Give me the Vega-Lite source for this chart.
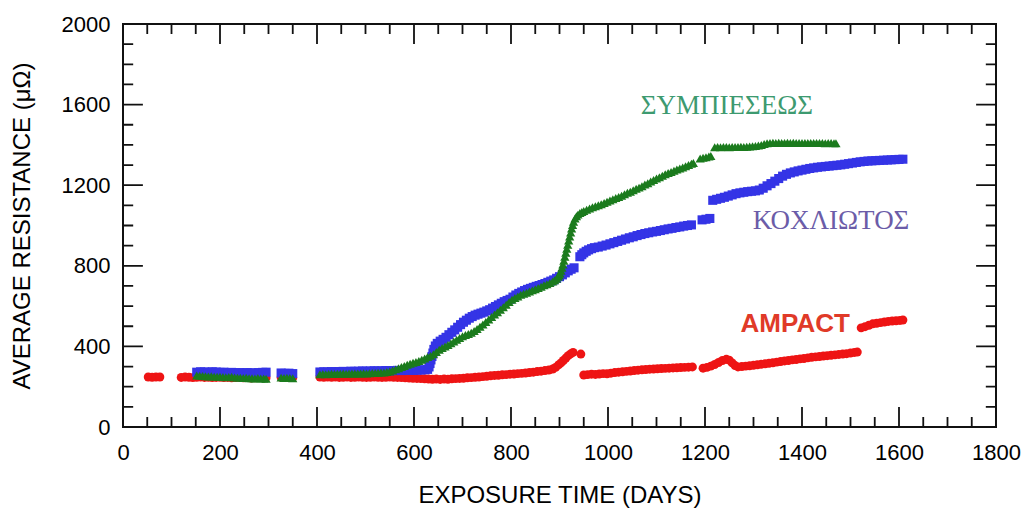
{
"$schema": "https://vega.github.io/schema/vega-lite/v6.json",
"width": 873, "height": 403,
"autosize": {"type": "none"},
"padding": {"left": 123, "top": 24, "right": 29, "bottom": 84},
"background": "white",
"config": {"font": "Liberation Sans", "view": {"stroke": "#111111", "strokeWidth": 2},
  "axis": {"grid": false, "domain": false, "labelColor": "black", "titleColor": "black", "labelFont": "Liberation Sans", "titleFont": "Liberation Sans", "labelFontSize": 22, "titleFontSize": 24, "titleFontWeight": "normal", "labelFlush": false, "labelOverlap": false, "format": "d"}},
"datasets": {
"xmaj": [{"t":200},{"t":400},{"t":600},{"t":800},{"t":1000},{"t":1200},{"t":1400},{"t":1600}],
"xmin": [{"t":50},{"t":100},{"t":150},{"t":250},{"t":300},{"t":350},{"t":450},{"t":500},{"t":550},{"t":650},{"t":700},{"t":750},{"t":850},{"t":900},{"t":950},{"t":1050},{"t":1100},{"t":1150},{"t":1250},{"t":1300},{"t":1350},{"t":1450},{"t":1500},{"t":1550},{"t":1650},{"t":1700},{"t":1750}],
"ymaj": [{"t":400},{"t":800},{"t":1200},{"t":1600}],
"ymin": [{"t":100},{"t":200},{"t":300},{"t":500},{"t":600},{"t":700},{"t":900},{"t":1000},{"t":1100},{"t":1300},{"t":1400},{"t":1500},{"t":1700},{"t":1800},{"t":1900}],
"pts": [
{"s":"AMPACT","d":52,"v":248},{"s":"AMPACT","d":60,"v":247},{"s":"AMPACT","d":68,"v":248},{"s":"AMPACT","d":76,"v":248},
{"s":"AMPACT","d":120,"v":246},{"s":"AMPACT","d":128,"v":248},{"s":"AMPACT","d":136,"v":247},{"s":"AMPACT","d":144,"v":245},{"s":"AMPACT","d":152,"v":247},{"s":"AMPACT","d":160,"v":248},{"s":"AMPACT","d":168,"v":246},{"s":"AMPACT","d":176,"v":247},{"s":"AMPACT","d":184,"v":245},{"s":"AMPACT","d":192,"v":246},{"s":"AMPACT","d":200,"v":247},{"s":"AMPACT","d":208,"v":245},{"s":"AMPACT","d":216,"v":246},{"s":"AMPACT","d":224,"v":244},{"s":"AMPACT","d":232,"v":245},{"s":"AMPACT","d":240,"v":246},{"s":"AMPACT","d":248,"v":244},{"s":"AMPACT","d":256,"v":245},{"s":"AMPACT","d":264,"v":243},{"s":"AMPACT","d":272,"v":244},{"s":"AMPACT","d":280,"v":245},{"s":"AMPACT","d":288,"v":244},{"s":"AMPACT","d":295,"v":245},
{"s":"AMPACT","d":326,"v":246},{"s":"AMPACT","d":334,"v":245},{"s":"AMPACT","d":342,"v":246},{"s":"AMPACT","d":350,"v":245},
{"s":"AMPACT","d":406,"v":248},{"s":"AMPACT","d":414,"v":247},{"s":"AMPACT","d":422,"v":248},{"s":"AMPACT","d":430,"v":247},{"s":"AMPACT","d":438,"v":248},{"s":"AMPACT","d":446,"v":246},{"s":"AMPACT","d":454,"v":247},{"s":"AMPACT","d":462,"v":248},{"s":"AMPACT","d":470,"v":246},{"s":"AMPACT","d":478,"v":247},{"s":"AMPACT","d":486,"v":248},{"s":"AMPACT","d":494,"v":247},{"s":"AMPACT","d":502,"v":246},{"s":"AMPACT","d":510,"v":247},{"s":"AMPACT","d":518,"v":248},{"s":"AMPACT","d":526,"v":247},{"s":"AMPACT","d":534,"v":246},{"s":"AMPACT","d":542,"v":247},{"s":"AMPACT","d":550,"v":248},{"s":"AMPACT","d":558,"v":247},{"s":"AMPACT","d":566,"v":246},{"s":"AMPACT","d":574,"v":245},{"s":"AMPACT","d":582,"v":244},{"s":"AMPACT","d":590,"v":243},{"s":"AMPACT","d":598,"v":242},{"s":"AMPACT","d":606,"v":241},{"s":"AMPACT","d":614,"v":240},{"s":"AMPACT","d":622,"v":239},{"s":"AMPACT","d":630,"v":238},{"s":"AMPACT","d":638,"v":237},{"s":"AMPACT","d":646,"v":238},{"s":"AMPACT","d":654,"v":236},{"s":"AMPACT","d":662,"v":238},{"s":"AMPACT","d":670,"v":237},{"s":"AMPACT","d":678,"v":239},{"s":"AMPACT","d":686,"v":240},{"s":"AMPACT","d":694,"v":241},{"s":"AMPACT","d":702,"v":242},{"s":"AMPACT","d":710,"v":244},{"s":"AMPACT","d":718,"v":245},{"s":"AMPACT","d":726,"v":247},{"s":"AMPACT","d":734,"v":248},{"s":"AMPACT","d":742,"v":250},{"s":"AMPACT","d":750,"v":252},{"s":"AMPACT","d":758,"v":254},{"s":"AMPACT","d":766,"v":256},{"s":"AMPACT","d":774,"v":257},{"s":"AMPACT","d":782,"v":259},{"s":"AMPACT","d":790,"v":260},{"s":"AMPACT","d":798,"v":262},{"s":"AMPACT","d":806,"v":263},{"s":"AMPACT","d":814,"v":265},{"s":"AMPACT","d":822,"v":266},{"s":"AMPACT","d":830,"v":268},{"s":"AMPACT","d":838,"v":270},{"s":"AMPACT","d":846,"v":272},{"s":"AMPACT","d":854,"v":275},{"s":"AMPACT","d":862,"v":277},{"s":"AMPACT","d":870,"v":280},{"s":"AMPACT","d":878,"v":283},{"s":"AMPACT","d":886,"v":288},{"s":"AMPACT","d":892,"v":296},{"s":"AMPACT","d":898,"v":308},{"s":"AMPACT","d":903,"v":318},{"s":"AMPACT","d":908,"v":330},{"s":"AMPACT","d":913,"v":342},{"s":"AMPACT","d":918,"v":354},{"s":"AMPACT","d":923,"v":363},{"s":"AMPACT","d":928,"v":370},
{"s":"AMPACT","d":944,"v":362},
{"s":"AMPACT","d":950,"v":258},{"s":"AMPACT","d":958,"v":260},{"s":"AMPACT","d":966,"v":262},{"s":"AMPACT","d":974,"v":261},{"s":"AMPACT","d":982,"v":263},{"s":"AMPACT","d":990,"v":265},{"s":"AMPACT","d":998,"v":264},{"s":"AMPACT","d":1006,"v":267},{"s":"AMPACT","d":1014,"v":270},{"s":"AMPACT","d":1022,"v":272},{"s":"AMPACT","d":1030,"v":274},{"s":"AMPACT","d":1038,"v":276},{"s":"AMPACT","d":1046,"v":278},{"s":"AMPACT","d":1054,"v":280},{"s":"AMPACT","d":1062,"v":282},{"s":"AMPACT","d":1070,"v":284},{"s":"AMPACT","d":1078,"v":285},{"s":"AMPACT","d":1086,"v":287},{"s":"AMPACT","d":1094,"v":288},{"s":"AMPACT","d":1102,"v":289},{"s":"AMPACT","d":1110,"v":290},{"s":"AMPACT","d":1118,"v":291},{"s":"AMPACT","d":1126,"v":292},{"s":"AMPACT","d":1134,"v":293},{"s":"AMPACT","d":1142,"v":294},{"s":"AMPACT","d":1150,"v":295},{"s":"AMPACT","d":1158,"v":296},{"s":"AMPACT","d":1166,"v":297},{"s":"AMPACT","d":1174,"v":298},
{"s":"AMPACT","d":1196,"v":292},{"s":"AMPACT","d":1204,"v":296},{"s":"AMPACT","d":1212,"v":302},{"s":"AMPACT","d":1220,"v":310},{"s":"AMPACT","d":1228,"v":320},{"s":"AMPACT","d":1236,"v":330},{"s":"AMPACT","d":1244,"v":336},{"s":"AMPACT","d":1250,"v":332},{"s":"AMPACT","d":1256,"v":318},{"s":"AMPACT","d":1262,"v":305},{"s":"AMPACT","d":1268,"v":298},{"s":"AMPACT","d":1276,"v":300},{"s":"AMPACT","d":1284,"v":302},{"s":"AMPACT","d":1292,"v":304},{"s":"AMPACT","d":1300,"v":306},{"s":"AMPACT","d":1308,"v":309},{"s":"AMPACT","d":1316,"v":311},{"s":"AMPACT","d":1324,"v":314},{"s":"AMPACT","d":1332,"v":316},{"s":"AMPACT","d":1340,"v":319},{"s":"AMPACT","d":1348,"v":322},{"s":"AMPACT","d":1356,"v":325},{"s":"AMPACT","d":1364,"v":328},{"s":"AMPACT","d":1372,"v":330},{"s":"AMPACT","d":1380,"v":333},{"s":"AMPACT","d":1388,"v":335},{"s":"AMPACT","d":1396,"v":338},{"s":"AMPACT","d":1404,"v":340},{"s":"AMPACT","d":1412,"v":343},{"s":"AMPACT","d":1420,"v":346},{"s":"AMPACT","d":1428,"v":348},{"s":"AMPACT","d":1436,"v":350},{"s":"AMPACT","d":1444,"v":352},{"s":"AMPACT","d":1452,"v":354},{"s":"AMPACT","d":1460,"v":356},{"s":"AMPACT","d":1468,"v":358},{"s":"AMPACT","d":1476,"v":360},{"s":"AMPACT","d":1484,"v":362},{"s":"AMPACT","d":1492,"v":364},{"s":"AMPACT","d":1500,"v":367},{"s":"AMPACT","d":1508,"v":370},{"s":"AMPACT","d":1514,"v":372},
{"s":"AMPACT","d":1522,"v":492},{"s":"AMPACT","d":1530,"v":498},{"s":"AMPACT","d":1538,"v":505},{"s":"AMPACT","d":1546,"v":512},{"s":"AMPACT","d":1554,"v":515},{"s":"AMPACT","d":1562,"v":518},{"s":"AMPACT","d":1570,"v":521},{"s":"AMPACT","d":1578,"v":524},{"s":"AMPACT","d":1586,"v":526},{"s":"AMPACT","d":1594,"v":527},{"s":"AMPACT","d":1602,"v":529},{"s":"AMPACT","d":1608,"v":531},
{"s":"KOX","d":152,"v":272},{"s":"KOX","d":160,"v":274},{"s":"KOX","d":168,"v":273},{"s":"KOX","d":176,"v":272},{"s":"KOX","d":184,"v":274},{"s":"KOX","d":192,"v":273},{"s":"KOX","d":200,"v":271},{"s":"KOX","d":208,"v":272},{"s":"KOX","d":216,"v":270},{"s":"KOX","d":224,"v":271},{"s":"KOX","d":232,"v":269},{"s":"KOX","d":240,"v":270},{"s":"KOX","d":248,"v":268},{"s":"KOX","d":256,"v":270},{"s":"KOX","d":264,"v":269},{"s":"KOX","d":272,"v":268},{"s":"KOX","d":280,"v":270},{"s":"KOX","d":288,"v":271},{"s":"KOX","d":295,"v":272},
{"s":"KOX","d":326,"v":268},{"s":"KOX","d":334,"v":266},{"s":"KOX","d":342,"v":267},{"s":"KOX","d":350,"v":265},
{"s":"KOX","d":406,"v":273},{"s":"KOX","d":414,"v":274},{"s":"KOX","d":422,"v":273},{"s":"KOX","d":430,"v":275},{"s":"KOX","d":438,"v":274},{"s":"KOX","d":446,"v":275},{"s":"KOX","d":454,"v":276},{"s":"KOX","d":462,"v":275},{"s":"KOX","d":470,"v":277},{"s":"KOX","d":478,"v":276},{"s":"KOX","d":486,"v":277},{"s":"KOX","d":494,"v":278},{"s":"KOX","d":502,"v":277},{"s":"KOX","d":510,"v":278},{"s":"KOX","d":518,"v":279},{"s":"KOX","d":526,"v":278},{"s":"KOX","d":534,"v":279},{"s":"KOX","d":542,"v":280},{"s":"KOX","d":550,"v":279},{"s":"KOX","d":558,"v":280},{"s":"KOX","d":566,"v":281},{"s":"KOX","d":574,"v":280},{"s":"KOX","d":582,"v":281},{"s":"KOX","d":590,"v":282},{"s":"KOX","d":598,"v":281},{"s":"KOX","d":606,"v":282},{"s":"KOX","d":614,"v":283},{"s":"KOX","d":622,"v":284},{"s":"KOX","d":628,"v":286},{"s":"KOX","d":631,"v":298},{"s":"KOX","d":633,"v":315},{"s":"KOX","d":635,"v":333},{"s":"KOX","d":637,"v":350},{"s":"KOX","d":639,"v":367},{"s":"KOX","d":641,"v":385},{"s":"KOX","d":644,"v":402},{"s":"KOX","d":648,"v":415},{"s":"KOX","d":654,"v":426},{"s":"KOX","d":660,"v":435},{"s":"KOX","d":666,"v":445},{"s":"KOX","d":672,"v":458},{"s":"KOX","d":678,"v":470},{"s":"KOX","d":684,"v":482},{"s":"KOX","d":690,"v":495},{"s":"KOX","d":696,"v":508},{"s":"KOX","d":702,"v":520},{"s":"KOX","d":708,"v":530},{"s":"KOX","d":714,"v":540},{"s":"KOX","d":720,"v":548},{"s":"KOX","d":726,"v":555},{"s":"KOX","d":732,"v":560},{"s":"KOX","d":738,"v":565},{"s":"KOX","d":744,"v":570},{"s":"KOX","d":750,"v":576},{"s":"KOX","d":756,"v":582},{"s":"KOX","d":762,"v":590},{"s":"KOX","d":768,"v":598},{"s":"KOX","d":774,"v":606},{"s":"KOX","d":780,"v":614},{"s":"KOX","d":786,"v":622},{"s":"KOX","d":792,"v":628},{"s":"KOX","d":798,"v":634},{"s":"KOX","d":804,"v":645},{"s":"KOX","d":810,"v":655},{"s":"KOX","d":816,"v":663},{"s":"KOX","d":822,"v":670},{"s":"KOX","d":828,"v":677},{"s":"KOX","d":834,"v":683},{"s":"KOX","d":840,"v":688},{"s":"KOX","d":846,"v":693},{"s":"KOX","d":852,"v":698},{"s":"KOX","d":858,"v":702},{"s":"KOX","d":864,"v":707},{"s":"KOX","d":870,"v":712},{"s":"KOX","d":876,"v":718},{"s":"KOX","d":882,"v":724},{"s":"KOX","d":888,"v":730},{"s":"KOX","d":894,"v":738},{"s":"KOX","d":900,"v":746},{"s":"KOX","d":906,"v":755},{"s":"KOX","d":912,"v":765},{"s":"KOX","d":918,"v":775},{"s":"KOX","d":924,"v":783},{"s":"KOX","d":930,"v":790},
{"s":"KOX","d":942,"v":845},{"s":"KOX","d":946,"v":855},{"s":"KOX","d":950,"v":864},{"s":"KOX","d":955,"v":872},{"s":"KOX","d":960,"v":879},{"s":"KOX","d":966,"v":885},{"s":"KOX","d":972,"v":890},{"s":"KOX","d":980,"v":893},{"s":"KOX","d":988,"v":898},{"s":"KOX","d":996,"v":903},{"s":"KOX","d":1004,"v":909},{"s":"KOX","d":1012,"v":915},{"s":"KOX","d":1020,"v":921},{"s":"KOX","d":1028,"v":927},{"s":"KOX","d":1036,"v":933},{"s":"KOX","d":1044,"v":939},{"s":"KOX","d":1052,"v":944},{"s":"KOX","d":1060,"v":950},{"s":"KOX","d":1068,"v":955},{"s":"KOX","d":1076,"v":960},{"s":"KOX","d":1084,"v":964},{"s":"KOX","d":1092,"v":968},{"s":"KOX","d":1100,"v":971},{"s":"KOX","d":1108,"v":975},{"s":"KOX","d":1116,"v":979},{"s":"KOX","d":1124,"v":983},{"s":"KOX","d":1132,"v":986},{"s":"KOX","d":1140,"v":990},{"s":"KOX","d":1148,"v":993},{"s":"KOX","d":1156,"v":997},{"s":"KOX","d":1164,"v":1000},{"s":"KOX","d":1172,"v":1003},
{"s":"KOX","d":1194,"v":1028},{"s":"KOX","d":1202,"v":1031},{"s":"KOX","d":1210,"v":1035},
{"s":"KOX","d":1216,"v":1125},{"s":"KOX","d":1224,"v":1130},{"s":"KOX","d":1232,"v":1135},{"s":"KOX","d":1240,"v":1140},{"s":"KOX","d":1248,"v":1146},{"s":"KOX","d":1256,"v":1152},{"s":"KOX","d":1264,"v":1158},{"s":"KOX","d":1272,"v":1162},{"s":"KOX","d":1280,"v":1165},{"s":"KOX","d":1288,"v":1168},{"s":"KOX","d":1296,"v":1170},{"s":"KOX","d":1304,"v":1172},{"s":"KOX","d":1312,"v":1176},{"s":"KOX","d":1320,"v":1185},{"s":"KOX","d":1328,"v":1197},{"s":"KOX","d":1336,"v":1208},{"s":"KOX","d":1344,"v":1220},{"s":"KOX","d":1352,"v":1233},{"s":"KOX","d":1360,"v":1245},{"s":"KOX","d":1368,"v":1254},{"s":"KOX","d":1376,"v":1261},{"s":"KOX","d":1384,"v":1266},{"s":"KOX","d":1392,"v":1271},{"s":"KOX","d":1400,"v":1275},{"s":"KOX","d":1408,"v":1279},{"s":"KOX","d":1416,"v":1283},{"s":"KOX","d":1424,"v":1286},{"s":"KOX","d":1432,"v":1289},{"s":"KOX","d":1440,"v":1291},{"s":"KOX","d":1448,"v":1293},{"s":"KOX","d":1456,"v":1295},{"s":"KOX","d":1464,"v":1297},{"s":"KOX","d":1472,"v":1299},{"s":"KOX","d":1480,"v":1301},{"s":"KOX","d":1488,"v":1304},{"s":"KOX","d":1496,"v":1307},{"s":"KOX","d":1504,"v":1310},{"s":"KOX","d":1512,"v":1313},{"s":"KOX","d":1520,"v":1316},{"s":"KOX","d":1528,"v":1318},{"s":"KOX","d":1536,"v":1320},{"s":"KOX","d":1544,"v":1321},{"s":"KOX","d":1552,"v":1322},{"s":"KOX","d":1560,"v":1323},{"s":"KOX","d":1568,"v":1324},{"s":"KOX","d":1576,"v":1325},{"s":"KOX","d":1584,"v":1326},{"s":"KOX","d":1592,"v":1327},{"s":"KOX","d":1600,"v":1328},{"s":"KOX","d":1608,"v":1329},
{"s":"SYM","d":152,"v":256},{"s":"SYM","d":158,"v":254},{"s":"SYM","d":164,"v":253},{"s":"SYM","d":170,"v":252},{"s":"SYM","d":176,"v":251},{"s":"SYM","d":182,"v":252},{"s":"SYM","d":188,"v":250},{"s":"SYM","d":194,"v":249},{"s":"SYM","d":200,"v":250},{"s":"SYM","d":206,"v":248},{"s":"SYM","d":212,"v":247},{"s":"SYM","d":218,"v":248},{"s":"SYM","d":224,"v":249},{"s":"SYM","d":230,"v":246},{"s":"SYM","d":236,"v":245},{"s":"SYM","d":242,"v":245},{"s":"SYM","d":248,"v":243},{"s":"SYM","d":254,"v":244},{"s":"SYM","d":260,"v":242},{"s":"SYM","d":266,"v":242},{"s":"SYM","d":272,"v":241},{"s":"SYM","d":278,"v":243},{"s":"SYM","d":284,"v":241},{"s":"SYM","d":290,"v":241},{"s":"SYM","d":295,"v":240},
{"s":"SYM","d":326,"v":245},{"s":"SYM","d":332,"v":243},{"s":"SYM","d":338,"v":244},{"s":"SYM","d":344,"v":243},{"s":"SYM","d":350,"v":242},
{"s":"SYM","d":406,"v":262},{"s":"SYM","d":412,"v":263},{"s":"SYM","d":418,"v":262},{"s":"SYM","d":424,"v":263},{"s":"SYM","d":430,"v":264},{"s":"SYM","d":436,"v":263},{"s":"SYM","d":442,"v":264},{"s":"SYM","d":448,"v":264},{"s":"SYM","d":454,"v":265},{"s":"SYM","d":460,"v":264},{"s":"SYM","d":466,"v":265},{"s":"SYM","d":472,"v":266},{"s":"SYM","d":478,"v":265},{"s":"SYM","d":484,"v":266},{"s":"SYM","d":490,"v":266},{"s":"SYM","d":496,"v":267},{"s":"SYM","d":502,"v":266},{"s":"SYM","d":508,"v":267},{"s":"SYM","d":514,"v":268},{"s":"SYM","d":520,"v":268},{"s":"SYM","d":526,"v":269},{"s":"SYM","d":532,"v":270},{"s":"SYM","d":538,"v":271},{"s":"SYM","d":544,"v":273},{"s":"SYM","d":550,"v":275},{"s":"SYM","d":556,"v":280},{"s":"SYM","d":562,"v":286},{"s":"SYM","d":568,"v":292},{"s":"SYM","d":574,"v":298},{"s":"SYM","d":580,"v":303},{"s":"SYM","d":586,"v":309},{"s":"SYM","d":592,"v":314},{"s":"SYM","d":598,"v":319},{"s":"SYM","d":604,"v":323},{"s":"SYM","d":610,"v":328},{"s":"SYM","d":616,"v":334},{"s":"SYM","d":622,"v":340},{"s":"SYM","d":628,"v":347},{"s":"SYM","d":634,"v":353},{"s":"SYM","d":640,"v":361},{"s":"SYM","d":646,"v":372},{"s":"SYM","d":652,"v":383},{"s":"SYM","d":658,"v":392},{"s":"SYM","d":664,"v":399},{"s":"SYM","d":670,"v":407},{"s":"SYM","d":676,"v":415},{"s":"SYM","d":682,"v":424},{"s":"SYM","d":688,"v":433},{"s":"SYM","d":694,"v":442},{"s":"SYM","d":700,"v":450},{"s":"SYM","d":706,"v":456},{"s":"SYM","d":712,"v":462},{"s":"SYM","d":718,"v":468},{"s":"SYM","d":724,"v":476},{"s":"SYM","d":730,"v":486},{"s":"SYM","d":736,"v":497},{"s":"SYM","d":742,"v":509},{"s":"SYM","d":748,"v":521},{"s":"SYM","d":754,"v":533},{"s":"SYM","d":760,"v":546},{"s":"SYM","d":766,"v":558},{"s":"SYM","d":772,"v":570},{"s":"SYM","d":778,"v":582},{"s":"SYM","d":784,"v":594},{"s":"SYM","d":790,"v":607},{"s":"SYM","d":796,"v":620},{"s":"SYM","d":802,"v":631},{"s":"SYM","d":808,"v":640},{"s":"SYM","d":814,"v":648},{"s":"SYM","d":820,"v":656},{"s":"SYM","d":826,"v":661},{"s":"SYM","d":832,"v":666},{"s":"SYM","d":838,"v":672},{"s":"SYM","d":844,"v":678},{"s":"SYM","d":850,"v":684},{"s":"SYM","d":856,"v":690},{"s":"SYM","d":862,"v":696},{"s":"SYM","d":868,"v":703},{"s":"SYM","d":874,"v":709},{"s":"SYM","d":880,"v":715},{"s":"SYM","d":886,"v":722},{"s":"SYM","d":890,"v":728},{"s":"SYM","d":894,"v":736},{"s":"SYM","d":897,"v":745},{"s":"SYM","d":899,"v":753},{"s":"SYM","d":901,"v":762},{"s":"SYM","d":903,"v":775},{"s":"SYM","d":905,"v":790},{"s":"SYM","d":907,"v":807},{"s":"SYM","d":909,"v":825},{"s":"SYM","d":911,"v":845},{"s":"SYM","d":913,"v":865},{"s":"SYM","d":915,"v":885},{"s":"SYM","d":917,"v":905},{"s":"SYM","d":919,"v":925},{"s":"SYM","d":921,"v":945},{"s":"SYM","d":923,"v":965},{"s":"SYM","d":925,"v":985},{"s":"SYM","d":927,"v":1003},{"s":"SYM","d":929,"v":1018},{"s":"SYM","d":932,"v":1035},{"s":"SYM","d":935,"v":1046},{"s":"SYM","d":938,"v":1054},{"s":"SYM","d":942,"v":1062},{"s":"SYM","d":946,"v":1067},{"s":"SYM","d":950,"v":1072},{"s":"SYM","d":956,"v":1078},{"s":"SYM","d":962,"v":1084},{"s":"SYM","d":968,"v":1090},{"s":"SYM","d":974,"v":1095},{"s":"SYM","d":980,"v":1101},{"s":"SYM","d":986,"v":1106},{"s":"SYM","d":992,"v":1112},{"s":"SYM","d":998,"v":1118},{"s":"SYM","d":1004,"v":1124},{"s":"SYM","d":1010,"v":1130},{"s":"SYM","d":1016,"v":1136},{"s":"SYM","d":1022,"v":1142},{"s":"SYM","d":1028,"v":1148},{"s":"SYM","d":1034,"v":1155},{"s":"SYM","d":1040,"v":1162},{"s":"SYM","d":1046,"v":1168},{"s":"SYM","d":1052,"v":1175},{"s":"SYM","d":1058,"v":1182},{"s":"SYM","d":1064,"v":1188},{"s":"SYM","d":1070,"v":1195},{"s":"SYM","d":1076,"v":1203},{"s":"SYM","d":1082,"v":1210},{"s":"SYM","d":1088,"v":1218},{"s":"SYM","d":1094,"v":1226},{"s":"SYM","d":1100,"v":1233},{"s":"SYM","d":1106,"v":1240},{"s":"SYM","d":1112,"v":1247},{"s":"SYM","d":1118,"v":1254},{"s":"SYM","d":1124,"v":1260},{"s":"SYM","d":1130,"v":1266},{"s":"SYM","d":1136,"v":1272},{"s":"SYM","d":1142,"v":1278},{"s":"SYM","d":1148,"v":1283},{"s":"SYM","d":1154,"v":1288},{"s":"SYM","d":1160,"v":1294},{"s":"SYM","d":1166,"v":1300},{"s":"SYM","d":1172,"v":1306},{"s":"SYM","d":1176,"v":1310},
{"s":"SYM","d":1190,"v":1333},{"s":"SYM","d":1196,"v":1336},{"s":"SYM","d":1202,"v":1339},{"s":"SYM","d":1208,"v":1342},{"s":"SYM","d":1212,"v":1345},
{"s":"SYM","d":1220,"v":1388},{"s":"SYM","d":1226,"v":1389},{"s":"SYM","d":1232,"v":1388},{"s":"SYM","d":1238,"v":1389},{"s":"SYM","d":1244,"v":1390},{"s":"SYM","d":1250,"v":1388},{"s":"SYM","d":1256,"v":1389},{"s":"SYM","d":1262,"v":1389},{"s":"SYM","d":1268,"v":1390},{"s":"SYM","d":1274,"v":1391},{"s":"SYM","d":1280,"v":1390},{"s":"SYM","d":1286,"v":1391},{"s":"SYM","d":1292,"v":1392},{"s":"SYM","d":1298,"v":1393},{"s":"SYM","d":1304,"v":1394},{"s":"SYM","d":1310,"v":1397},{"s":"SYM","d":1316,"v":1400},{"s":"SYM","d":1322,"v":1405},{"s":"SYM","d":1328,"v":1408},{"s":"SYM","d":1334,"v":1410},{"s":"SYM","d":1340,"v":1411},{"s":"SYM","d":1346,"v":1410},{"s":"SYM","d":1352,"v":1411},{"s":"SYM","d":1358,"v":1410},{"s":"SYM","d":1364,"v":1410},{"s":"SYM","d":1370,"v":1411},{"s":"SYM","d":1376,"v":1410},{"s":"SYM","d":1382,"v":1411},{"s":"SYM","d":1388,"v":1410},{"s":"SYM","d":1394,"v":1410},{"s":"SYM","d":1400,"v":1409},{"s":"SYM","d":1406,"v":1410},{"s":"SYM","d":1412,"v":1410},{"s":"SYM","d":1418,"v":1409},{"s":"SYM","d":1424,"v":1410},{"s":"SYM","d":1430,"v":1409},{"s":"SYM","d":1436,"v":1409},{"s":"SYM","d":1442,"v":1410},{"s":"SYM","d":1448,"v":1408},{"s":"SYM","d":1454,"v":1409},{"s":"SYM","d":1460,"v":1409},{"s":"SYM","d":1466,"v":1408},{"s":"SYM","d":1470,"v":1408}
]},
"resolve": {"axis": {"x": "independent", "y": "independent"}},
"layer": [
{"data": {"name": "pts"},
 "mark": {"type": "point", "filled": true, "opacity": 1, "strokeWidth": 0},
 "encoding": {
  "x": {"field": "d", "type": "quantitative", "scale": {"domain": [0, 1800], "nice": false, "zero": false},
        "axis": {"orient": "bottom", "values": [0,200,400,600,800,1000,1200,1400,1600,1800], "ticks": false, "labelPadding": 15, "labelBaseline": "top", "title": "EXPOSURE TIME (DAYS)", "titleY": 68, "titleBaseline": "middle"}},
  "y": {"field": "v", "type": "quantitative", "scale": {"domain": [0, 2000], "nice": false, "zero": false},
        "axis": {"orient": "left", "values": [0,400,800,1200,1600,2000], "ticks": false, "labelPadding": 13, "title": "AVERAGE RESISTANCE (μΩ)", "titleX": -101, "titleBaseline": "middle"}},
  "color": {"field": "s", "type": "nominal", "scale": {"domain": ["AMPACT", "KOX", "SYM"], "range": ["#ee1414", "#3434e6", "#1b7b1d"]}, "legend": null},
  "shape": {"field": "s", "type": "nominal", "scale": {"domain": ["AMPACT", "KOX", "SYM"], "range": ["circle", "square", "triangle-up"]}, "legend": null},
  "size": {"field": "s", "type": "nominal", "scale": {"domain": ["AMPACT", "KOX", "SYM"], "range": [80, 85, 115]}, "legend": null}
 }},
{"data": {"name": "xmaj"}, "mark": {"type": "rect", "stroke": "#111111", "strokeWidth": 1.8, "fill": "#111111"},
 "encoding": {"x": {"field": "t", "type": "quantitative", "axis": null}, "x2": {"field": "t"}, "y": {"datum": 0, "type": "quantitative", "axis": null}, "y2": {"datum": 99}}},
{"data": {"name": "xmaj"}, "mark": {"type": "rect", "stroke": "#111111", "strokeWidth": 1.8, "fill": "#111111"},
 "encoding": {"x": {"field": "t", "type": "quantitative", "axis": null}, "x2": {"field": "t"}, "y": {"datum": 2000, "type": "quantitative", "axis": null}, "y2": {"datum": 1901}}},
{"data": {"name": "xmin"}, "mark": {"type": "rect", "stroke": "#111111", "strokeWidth": 1.8, "fill": "#111111"},
 "encoding": {"x": {"field": "t", "type": "quantitative", "axis": null}, "x2": {"field": "t"}, "y": {"datum": 0, "type": "quantitative", "axis": null}, "y2": {"datum": 50}}},
{"data": {"name": "xmin"}, "mark": {"type": "rect", "stroke": "#111111", "strokeWidth": 1.8, "fill": "#111111"},
 "encoding": {"x": {"field": "t", "type": "quantitative", "axis": null}, "x2": {"field": "t"}, "y": {"datum": 2000, "type": "quantitative", "axis": null}, "y2": {"datum": 1950}}},
{"data": {"name": "ymaj"}, "mark": {"type": "rect", "stroke": "#111111", "strokeWidth": 1.8, "fill": "#111111"},
 "encoding": {"y": {"field": "t", "type": "quantitative", "axis": null}, "y2": {"field": "t"}, "x": {"datum": 0, "type": "quantitative", "axis": null}, "x2": {"datum": 41}}},
{"data": {"name": "ymaj"}, "mark": {"type": "rect", "stroke": "#111111", "strokeWidth": 1.8, "fill": "#111111"},
 "encoding": {"y": {"field": "t", "type": "quantitative", "axis": null}, "y2": {"field": "t"}, "x": {"datum": 1800, "type": "quantitative", "axis": null}, "x2": {"datum": 1759}}},
{"data": {"name": "ymin"}, "mark": {"type": "rect", "stroke": "#111111", "strokeWidth": 1.8, "fill": "#111111"},
 "encoding": {"y": {"field": "t", "type": "quantitative", "axis": null}, "y2": {"field": "t"}, "x": {"datum": 0, "type": "quantitative", "axis": null}, "x2": {"datum": 21}}},
{"data": {"name": "ymin"}, "mark": {"type": "rect", "stroke": "#111111", "strokeWidth": 1.8, "fill": "#111111"},
 "encoding": {"y": {"field": "t", "type": "quantitative", "axis": null}, "y2": {"field": "t"}, "x": {"datum": 1800, "type": "quantitative", "axis": null}, "x2": {"datum": 1779}}},
{"data": {"values": [{"name": "ΣΥΜΠΙΕΣΕΩΣ", "d": 1245, "v": 1593}]},
 "mark": {"type": "text", "font": "Liberation Serif", "fontSize": 27, "color": "#3d9a70", "baseline": "middle", "align": "center"},
 "encoding": {"text": {"field": "name"}, "x": {"field": "d", "type": "quantitative", "axis": null}, "y": {"field": "v", "type": "quantitative", "axis": null}}},
{"data": {"values": [{"name": "ΚΟΧΛΙΩΤΟΣ", "d": 1460, "v": 1022}]},
 "mark": {"type": "text", "font": "Liberation Serif", "fontSize": 27, "color": "#6b5ca8", "baseline": "middle", "align": "center"},
 "encoding": {"text": {"field": "name"}, "x": {"field": "d", "type": "quantitative", "axis": null}, "y": {"field": "v", "type": "quantitative", "axis": null}}},
{"data": {"values": [{"name": "AMPACT", "d": 1386, "v": 511}]},
 "mark": {"type": "text", "font": "Liberation Sans", "fontSize": 26, "fontWeight": "bold", "color": "#e03a28", "baseline": "middle", "align": "center"},
 "encoding": {"text": {"field": "name"}, "x": {"field": "d", "type": "quantitative", "axis": null}, "y": {"field": "v", "type": "quantitative", "axis": null}}}
]
}
